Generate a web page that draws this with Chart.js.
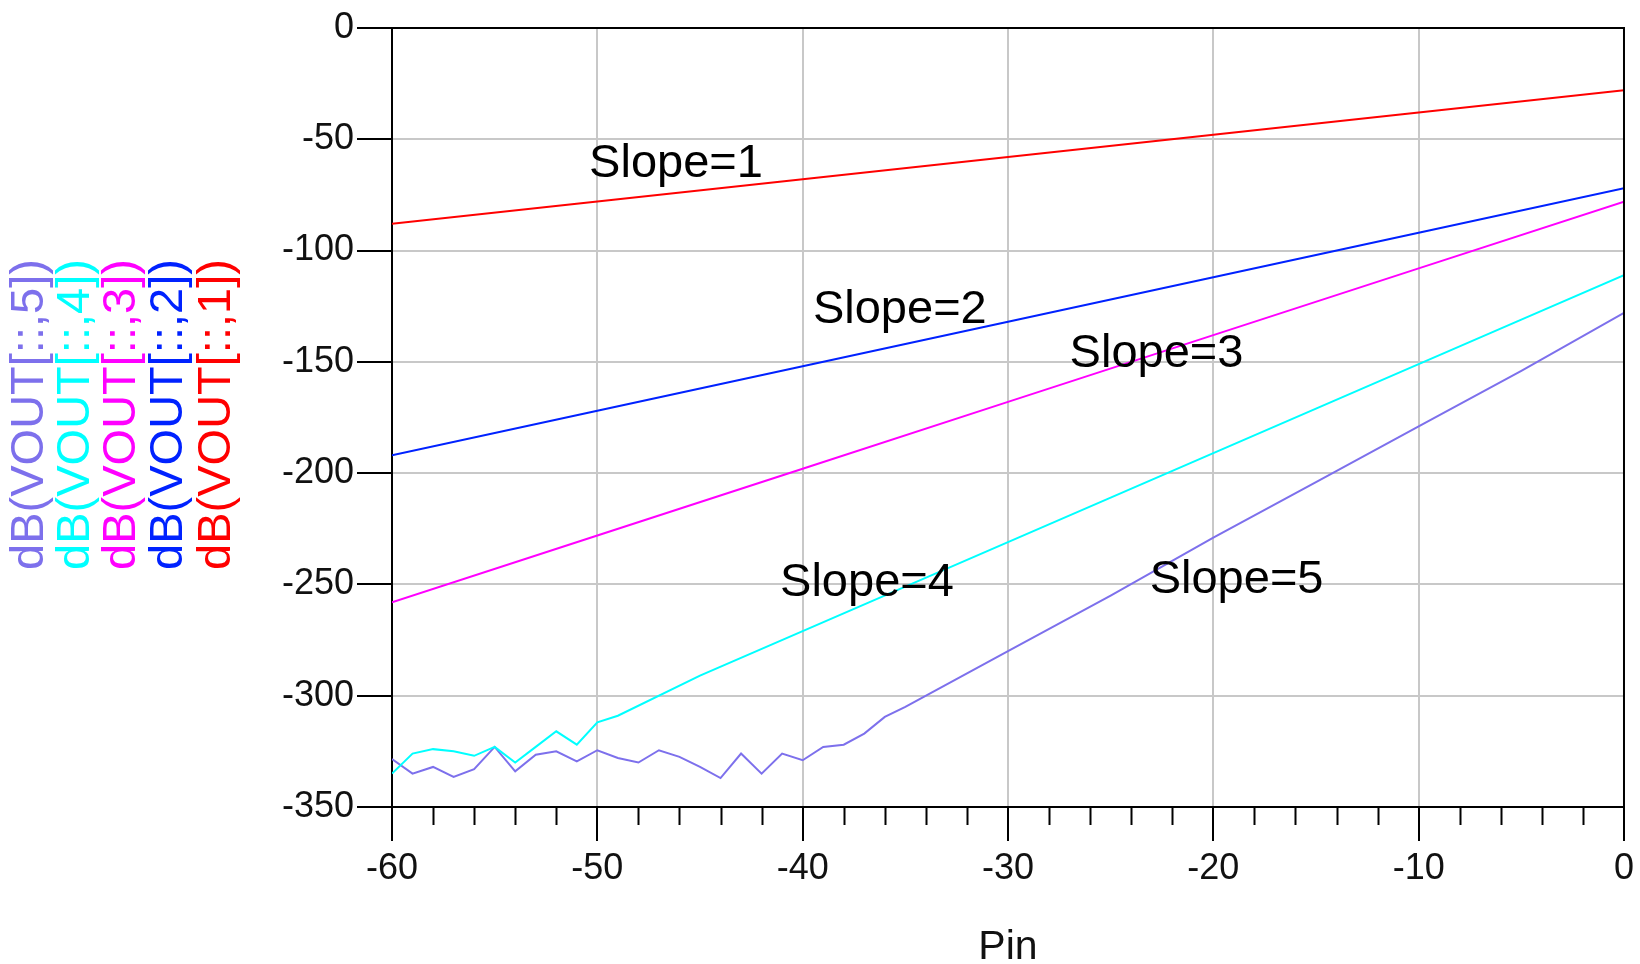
<!DOCTYPE html>
<html>
<head>
<meta charset="utf-8">
<script src="https://cdn.jsdelivr.net/npm/chart.js@4"></script>
<style>
  html, body { margin: 0; padding: 0; background: #fff; }
</style>
</head>
<body>
<canvas id="chartPin" width="1640" height="964"></canvas>
<script>
// straight lines, sampled every 10 dB of Pin
const lineX = [-60, -50, -40, -30, -20, -10, 0];
const vout1 = [-88, -78, -68, -58, -48, -38, -28];
const vout2 = [-192, -172, -152, -132, -112, -92, -72];
const vout3 = [-258, -228, -198, -168, -138, -108, -78];

// slope 4: noise floor at low Pin, then straight
const vout4X = [-60, -59, -58, -57, -56, -55, -54, -53, -52, -51, -50, -49, -45, -40, -35, -30, -25, -20, -15, -10, -5, 0];
const vout4 = [-335, -326, -324, -325, -327, -323, -330, -323, -316, -322, -312, -309, -291, -271, -251, -231, -211, -191, -171, -151, -131, -111];

// slope 5: noise floor up to about -37 dB
const vout5X = [-60, -59, -58, -57, -56, -55, -54, -53, -52, -51, -50, -49, -48, -47, -46, -45, -44, -43, -42, -41, -40, -39, -38, -37, -36, -35, -30, -25, -20, -15, -10, -5, 0];
const vout5 = [-328.5, -335, -332, -336.5, -333, -323, -334, -326.5, -325, -329.5, -324.5, -328, -330, -324.5, -327.5, -332, -337, -326, -335, -326, -329, -323, -322, -317, -309.5, -305, -280, -255, -229, -204, -179, -154, -128];

const seriesNames = ['dB(VOUT[::,5])', 'dB(VOUT[::,4])', 'dB(VOUT[::,3])', 'dB(VOUT[::,2])', 'dB(VOUT[::,1])'];
const seriesColors = ['#7d70ec', '#00ffff', '#ff00ff', '#0022ff', '#ff0000'];

const slopeLabels = ['Slope=1', 'Slope=2', 'Slope=3', 'Slope=4', 'Slope=5'];
const slopeAtX = [-50.4, -39.5, -27.0, -41.1, -23.1];
const slopeAtY = [-67, -132.6, -152.4, -255, -254];

const FONT = '"Liberation Sans", Arial, sans-serif';

function pts(xs, ys) {
    return xs.map((x, i) => ({ x: x, y: ys[i] }));
}

// frame, minor ticks, rotated y titles, slope notes
const extras = {
    id: 'extras',
    afterDraw(chart) {
        const ctx = chart.ctx;
        const a = chart.chartArea;
        const xs = chart.scales.x;
        ctx.save();
        ctx.strokeStyle = '#000';
        ctx.lineWidth = 2;
        ctx.beginPath();
        ctx.moveTo(a.left, a.top);
        ctx.lineTo(a.right, a.top);
        ctx.lineTo(a.right, a.bottom);
        ctx.stroke();

        // minor ticks every 2 dB
        ctx.beginPath();
        xs.ticks.forEach(t => {
            if (t.value % 10 !== 0) {
                const px = Math.round(xs.getPixelForValue(t.value)) + 0.5;
                ctx.moveTo(px, a.bottom);
                ctx.lineTo(px, a.bottom + 18);
            }
        });
        ctx.stroke();

        // y titles, one per series
        ctx.font = '47px ' + FONT;
        ctx.textAlign = 'center';
        ctx.textBaseline = 'middle';
        const colX = [30, 76, 122, 169, 217];
        seriesNames.forEach((name, i) => {
            ctx.save();
            ctx.translate(colX[i], (a.top + a.bottom) / 2 - 3);
            ctx.rotate(-Math.PI / 2);
            ctx.fillStyle = seriesColors[i];
            ctx.fillText(name, 0, 0);
            ctx.restore();
        });

        // slope notes
        const ys = chart.scales.y;
        ctx.font = '47px ' + FONT;
        ctx.textAlign = 'left';
        ctx.textBaseline = 'alphabetic';
        ctx.fillStyle = '#000';
        slopeLabels.forEach((s, i) => {
            ctx.fillText(s, xs.getPixelForValue(slopeAtX[i]), ys.getPixelForValue(slopeAtY[i]));
        });
        ctx.restore();
    }
};

new Chart(document.getElementById('chartPin'), {
    type: 'line',
    data: {
        datasets: [
            { label: seriesNames[4], data: pts(lineX, vout1), borderColor: seriesColors[4] },
            { label: seriesNames[3], data: pts(lineX, vout2), borderColor: seriesColors[3] },
            { label: seriesNames[2], data: pts(lineX, vout3), borderColor: seriesColors[2] },
            { label: seriesNames[1], data: pts(vout4X, vout4), borderColor: seriesColors[1] },
            { label: seriesNames[0], data: pts(vout5X, vout5), borderColor: seriesColors[0] },
        ]
    },
    options: {
        responsive: false,
        animation: false,
        layout: { padding: { top: 28, right: 16, left: 0, bottom: 0 } },
        elements: {
            line: { borderWidth: 2, tension: 0, fill: false },
            point: { radius: 0 }
        },
        plugins: { legend: { display: false }, tooltip: { enabled: false } },
        scales: {
            x: {
                type: 'linear',
                min: -60, max: 0,
                afterFit: s => { s.height = 157; },
                border: { color: '#000', width: 2 },
                grid: {
                    lineWidth: 2,
                    color: c => (c.tick && c.tick.value % 10 === 0) ? '#c8c8c8' : 'rgba(0,0,0,0)',
                    tickColor: c => (c.tick && c.tick.value % 10 === 0) ? '#000' : 'rgba(0,0,0,0)',
                    tickWidth: 2,
                    tickLength: 34
                },
                ticks: {
                    stepSize: 2,
                    autoSkip: false,
                    maxRotation: 0,
                    padding: 6,
                    color: '#111',
                    font: { family: FONT, size: 36 },
                    callback: v => (v % 10 === 0 ? v : '')
                },
                title: {
                    display: true,
                    text: 'Pin',
                    color: '#111',
                    font: { family: FONT, size: 41, lineHeight: 0.8 },
                    padding: { top: 0, bottom: 0 }
                }
            },
            y: {
                min: -350, max: 0,
                afterFit: s => { s.width = 392; },
                border: { color: '#000', width: 2 },
                grid: {
                    lineWidth: 2,
                    color: '#c8c8c8',
                    tickColor: '#000',
                    tickWidth: 2,
                    tickLength: 35
                },
                ticks: {
                    stepSize: 50,
                    padding: 3,
                    color: '#111',
                    font: { family: FONT, size: 36 }
                }
            }
        }
    },
    plugins: [extras]
});
</script>
</body>
</html>
